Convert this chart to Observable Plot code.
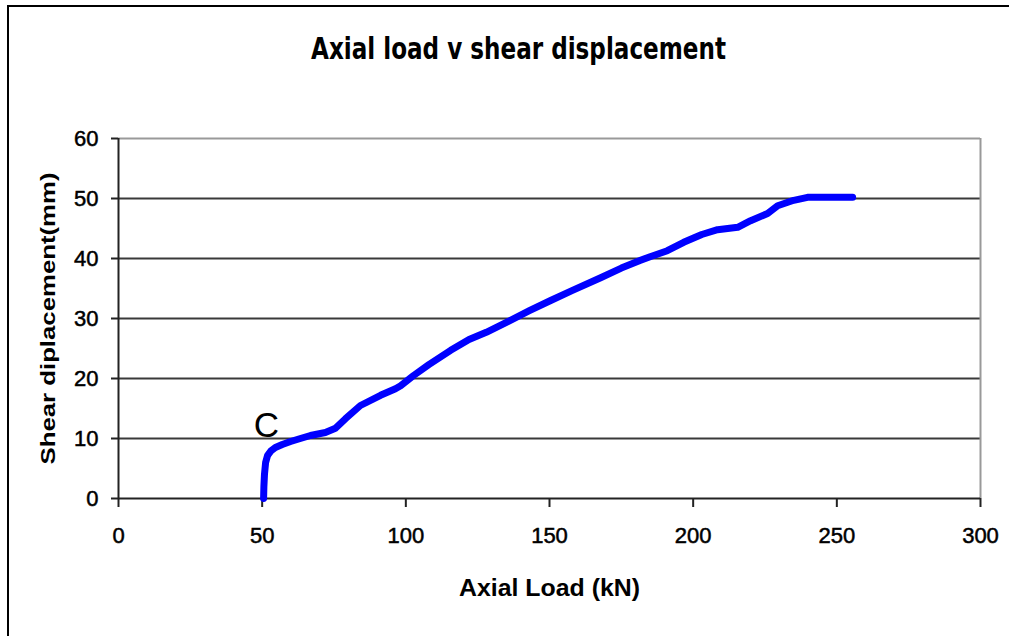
<!DOCTYPE html>
<html><head><meta charset="utf-8">
<script src="https://cdn.jsdelivr.net/npm/d3@7"></script>
<script src="https://cdn.jsdelivr.net/npm/@observablehq/plot@0.6"></script>
<style>
body{margin:0;background:#fff;}
#wrap{position:relative;width:1009px;height:636px;overflow:hidden;}
#frame{position:absolute;left:7px;top:5px;width:1100px;height:700px;border-left:2px solid #000;border-top:2px solid #000;pointer-events:none;}
svg{position:absolute;left:0;top:0;}
</style></head>
<body><div id="wrap"><div id="frame"></div></div>
<script>
const axialLoad = [50.5,50.6,50.8,51.2,51.9,53,54.6,57,59.9,63.3,66.8,72,75.5,79,84.2,91.2,96.4,98.2,102.7,108,115.6,122,128,136.4,143,150.4,158,167.8,175,181.7,185,191,196.7,203,208.5,215.5,220,225.9,229.4,235,239.8,245,250,255.5];
const shearDisp = [0,2,4,6,7.2,7.9,8.5,9,9.5,10,10.5,11,11.7,13.3,15.5,17.2,18.3,18.8,20.5,22.3,24.7,26.5,27.7,29.7,31.3,33,34.7,36.8,38.4,39.7,40.3,41.3,42.7,44,44.8,45.2,46.3,47.5,48.8,49.7,50.2,50.2,50.2,50.2];
const xTicks = [0,50,100,150,200,250,300];
const yTicks = [0,10,20,30,40,50,60];
const gridY = [10,20,30,40,50];
const titleText = "Axial load v shear displacement";
const xLabel = "Axial Load (kN)";
const yLabel = "Shear diplacement(mm)";
const pointLabel = [{x:51.5, y:12.1, t:"C"}];

const data = axialLoad.map((x,i)=>({x, y: shearDisp[i]}));

const chart = Plot.plot({
  width: 1009, height: 636,
  marginLeft: 118, marginRight: 29, marginTop: 138, marginBottom: 138,
  style: {fontFamily: "Liberation Sans, Arial, sans-serif", fontSize: "22px", color:"#000", background:"transparent", overflow:"visible"},
  x: {domain:[0,300], label: null},
  y: {domain:[0,60], label: null},
  marks: [
    Plot.ruleY(gridY, {stroke:"#3a3a3a", strokeWidth:2}),
    Plot.ruleY([60], {stroke:"#999", strokeWidth:2}),
    Plot.ruleX([300], {stroke:"#999", strokeWidth:2}),
    Plot.ruleY([0], {stroke:"#222", strokeWidth:2}),
    Plot.ruleX([0], {stroke:"#222", strokeWidth:2}),
    Plot.axisX({ticks: xTicks, tickSize: 9, tickPadding: 20, strokeWidth: 2, fontSize: 22, label: null, tickFormat: d=>String(d), stroke:"#222", fill:"#000"}),
    Plot.axisY({ticks: yTicks, tickSize: 7, tickPadding: 13, strokeWidth: 2, fontSize: 22, label: null, tickFormat: d=>String(d), stroke:"#222", fill:"#000"}),
    Plot.line(data, {x:"x", y:"y", stroke:"#0000ff", strokeWidth:7, strokeLinejoin:"round", strokeLinecap:"round"}),
    Plot.text(pointLabel, {x:"x", y:"y", text:"t", fontSize: 35, textAnchor:"middle", lineAnchor:"middle", fill:"#000"}),
    Plot.text([titleText], {frameAnchor:"top", lineAnchor:"middle", dx:-31, dy:-89.5, fontSize: 30, fontWeight:"bold", fontFamily:"Liberation Sans Narrow, Arial Narrow, DejaVu Sans Condensed, sans-serif", fill:"#000"}),
    Plot.text([xLabel], {frameAnchor:"bottom", lineAnchor:"middle", dy:90.5, fontSize: 23, fontWeight:"bold", fill:"#000"}),
    Plot.text([yLabel], {frameAnchor:"left", textAnchor:"middle", lineAnchor:"middle", dx:-70, rotate:-90, fontSize: 20, fontWeight:"bold", fill:"#000"})
  ]
});
document.getElementById("wrap").appendChild(chart);
// fit label widths to the reference
const fit = {[titleText]: 415, [xLabel]: 181, [yLabel]: 292};
d3.select(chart).selectAll("text").each(function(){
  const t = this.textContent;
  if (fit[t]) { this.setAttribute("textLength", fit[t]); this.setAttribute("lengthAdjust", "spacingAndGlyphs"); }
});
d3.select(chart).selectAll("g[aria-label='x-axis tick label'] text, g[aria-label='y-axis tick label'] text").attr("stroke","#000").attr("stroke-width",0.5);
</script>
</body></html>
